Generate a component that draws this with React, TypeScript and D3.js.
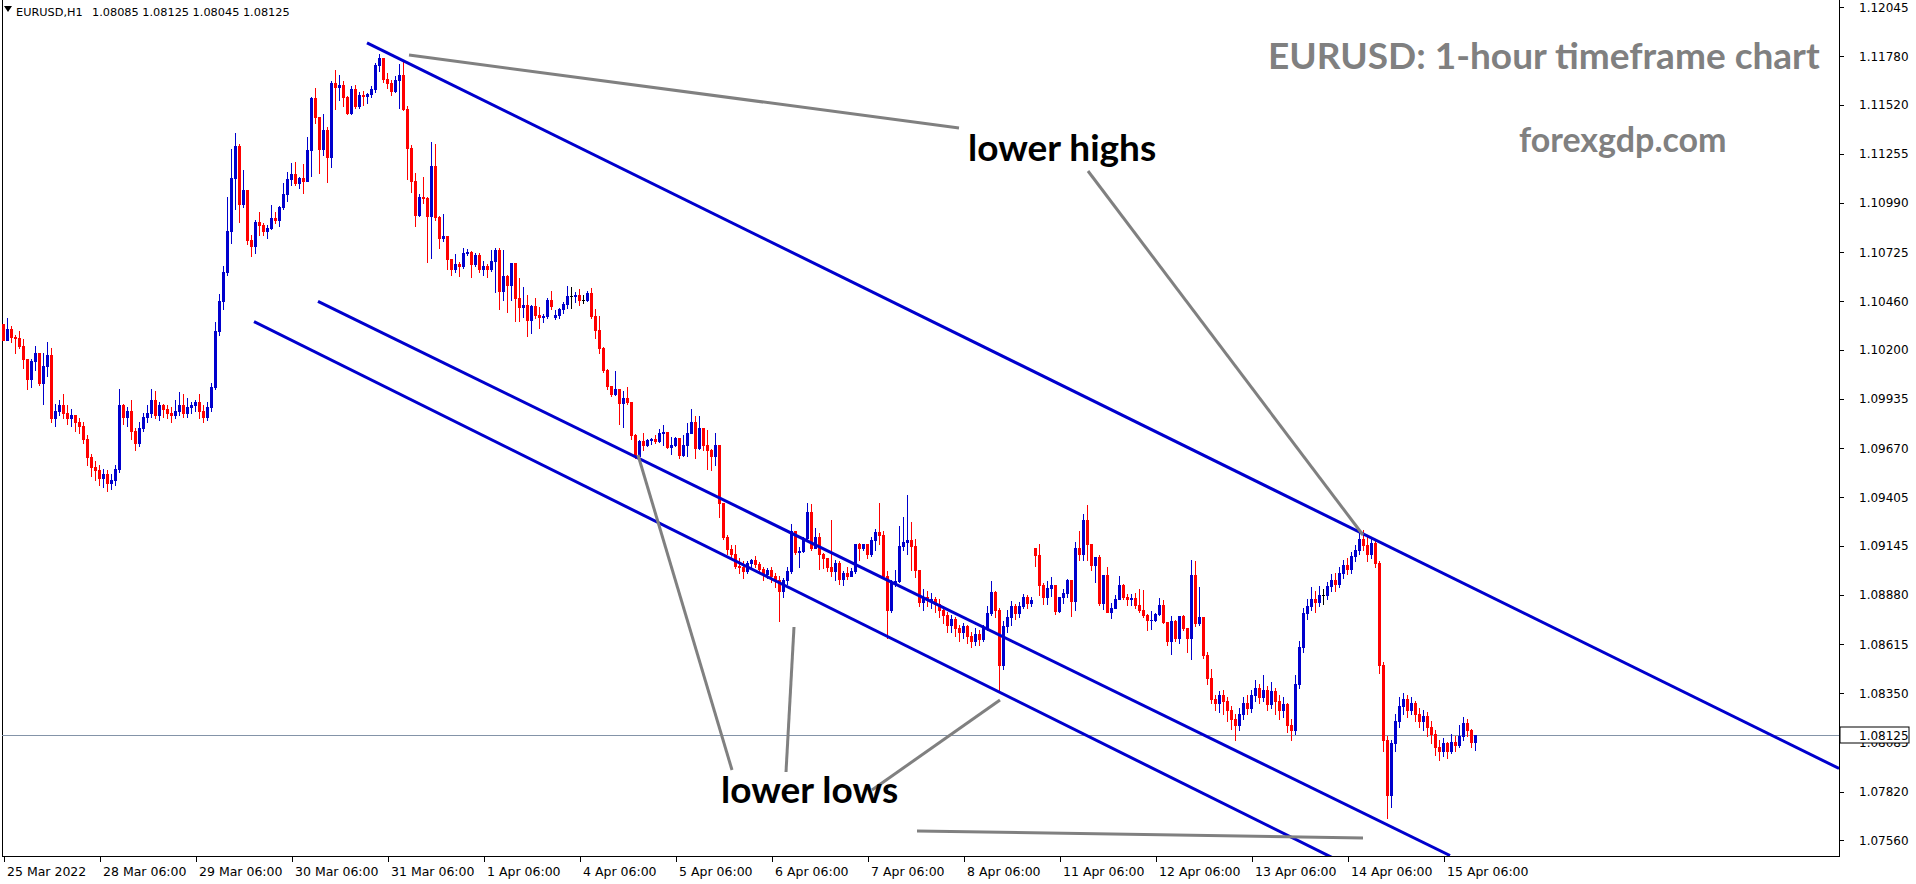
import React, { useEffect } from 'react';
import * as d3 from 'd3';

const W = 1916;
const H = 884;
const PLOT_RIGHT = 1839;
const PLOT_BOTTOM = 856;

// Candles: [close, high, low, open?] in pips above 1.0700 (1 pip = 0.0001)
const firstOpen = 334;
const mar25 = [
  [325, 334, 325], [331, 337, 325], [327, 333, 324], [326.5, 328, 318], [322, 330, 321], [315, 326, 310],
  [304, 315, 299], [314, 315, 300], [318, 322, 309], [302, 318, 301], [311, 318, 291], [317, 324, 306],
  [283, 321, 281], [287, 291, 279], [290, 293, 285], [286, 296, 283], [283, 290, 280], [285, 288, 279],
];
const mar28 = [
  [281, 285, 276], [279, 283, 275], [272, 281, 270], [262, 274, 258], [257, 264, 252], [255, 260, 250],
  [251, 258, 247], [253, 256, 246], [248, 255, 244], [250, 253, 245], [256, 258, 247], [290, 299, 254],
  [284, 291, 280], [287, 289, 279], [276, 293, 272], [270, 278, 266], [278, 281, 268], [284, 286, 276],
  [286, 290, 281], [293, 299, 284], [285, 298, 283], [290, 292, 282], [288, 291, 284], [286, 290, 283],
];
const mar29 = [
  [285, 289, 281], [287, 293, 283], [290, 297, 285], [286, 296, 284], [289, 294, 284], [290, 292, 286],
  [292, 293, 287], [287, 296, 283], [284, 290, 281], [289, 292, 282], [300, 302, 287], [330, 335, 299],
  [346, 350, 328], [362, 365, 342], [384, 402, 360], [412.6, 428, 377.6], [429.6, 436.8, 395.7], [398.6, 431, 389],
  [406, 416.7, 397], [379, 406, 377], [376, 382, 370.4], [388.7, 390, 372], [387, 394, 382], [384, 388, 381.7],
];
const mar30 = [
  [385.5, 387, 380], [390.9, 397.9, 385], [390, 394, 388], [396.8, 397.5, 386.5], [403.8, 409.5, 396], [411.9, 415.5, 400],
  [414.6, 420.3, 408.6], [409.9, 421, 408.5], [412.4, 413, 406.8], [411, 420, 404.5], [427.5, 434.3, 411], [455.7, 456.2, 413.7],
  [445.4, 460.7, 442.2], [428, 445.5, 415], [438.3, 446.9, 424.8], [423.9, 439.9, 410.4], [463.7, 464.6, 418.5], [461.6, 470.6, 449.7],
  [462.5, 467.7, 454.4], [456.2, 464.8, 451.2], [447.6, 456.5, 447], [460.3, 461.9, 446.9], [451.2, 462.5, 450], [457, 459, 450],
];
const mar31 = [
  [456.8, 459.5, 452], [457.7, 458, 453], [460.4, 461.7, 456], [473.3, 474.2, 459], [477, 479, 470], [465.8, 477, 464],
  [463.4, 468.8, 461], [459.5, 465, 457.3], [465.2, 467.4, 459], [467.9, 474, 450], [449.4, 476, 449], [428.8, 451, 411.9],
  [411, 430, 405], [392.5, 415, 386.8], [402.4, 404, 392], [401.5, 413, 399], [392, 402, 367.4], [418.9, 431.8, 369.6],
  [391.6, 431, 390], [380.3, 392, 375], [381, 392.9, 378.7], [368.8, 381, 363.3], [363.3, 369, 360.2], [366.1, 371.5, 362],
];
const apr01 = [
  [365, 367, 359.7], [372.2, 374.6, 364], [372.8, 374, 371], [366.1, 373, 359], [370.8, 372, 365], [363.3, 372, 362],
  [365, 368, 360], [363.2, 366, 359], [367.7, 373.6, 362.5], [373.6, 374.5, 351.2], [351.5, 374.5, 341.9], [359.8, 373.6, 347],
  [354.8, 360, 340.4], [366.5, 366.5, 346.7], [347.6, 366.5, 335.6], [343.1, 358.4, 335.6], [344, 353.9, 337.7], [335.9, 349.5, 327.3],
  [343.5, 344, 328.8], [338.6, 347.6, 337], [337.6, 343, 331.4], [338.1, 339, 335], [347, 348, 337], [343.5, 351.6, 342],
];
const apr04 = [
  [338.6, 341.3, 336.3, 337.7], [341.9, 342.7, 337], [344.5, 345.8, 340], [348.9, 354.2, 342.2], [348.9, 353.9, 342.2], [349.5, 351.2, 345.8],
  [346.7, 352.4, 344], [346.7, 349.4, 345.3], [350.6, 351.5, 346], [338.1, 353, 337], [330.5, 341.7, 326.1], [321, 338.1, 318.4],
  [309, 321.4, 308.1], [300.4, 309.4, 299], [296.1, 300.4, 295], [298.8, 308.5, 295.5], [291.4, 298.8, 280], [293.8, 297.7, 278.5],
  [292, 300, 291], [274, 292, 272], [262.7, 274.5, 261.5], [271, 271.5, 260.5], [268.6, 275, 266], [271.3, 272, 268],
];
const apr05 = [
  [271.7, 272.5, 269], [271, 274, 269.5], [275, 277.1, 270.5], [275.8, 279.4, 268.5], [267.8, 275.8, 266.9], [268.6, 273.2, 263.8],
  [272.3, 273, 268], [263.3, 272.3, 261.5], [268.6, 274, 263], [275, 280.3, 262.7], [281.2, 287.9, 275], [267, 284.3, 261.5],
  [277.6, 284.3, 266.3], [268.7, 277.6, 266], [266, 276.7, 255.6], [263, 266.5, 255], [268.7, 275, 257.9], [237.6, 268.7, 230],
  [219.3, 237.6, 218], [212.7, 220, 210], [210, 215, 207.9], [203.7, 214.8, 202.5], [203, 207.6, 200], [201, 206, 197],
];
const apr06 = [
  [205, 206, 200], [206.7, 207.5, 203], [204.4, 208.7, 203], [202, 205.5, 199.5], [199, 203, 196], [201.5, 202.5, 197],
  [198, 203, 195], [196, 199.5, 192], [190, 198, 174], [196, 197, 187], [201, 203, 194], [222.4, 226, 200],
  [211.2, 222.4, 210], [211.5, 214, 203], [218.4, 219, 211], [232.8, 237.6, 218], [213, 236.9, 212], [219.3, 224, 213],
  [210, 221.5, 202], [207.6, 210.5, 202.3], [203, 207.6, 201], [201, 228.3, 198], [205, 207, 196], [196.5, 206, 194],
];
const apr07 = [
  [199.8, 200.7, 193.5], [198.3, 203, 196.5], [200.7, 202.5, 198], [215.4, 215.4, 199.8], [213.2, 215.9, 207], [215.4, 215.4, 212],
  [210, 215.4, 207.8], [217.7, 219, 209], [221.8, 223.4, 212.3], [220.4, 237.5, 215.5], [198, 222.2, 197], [180, 201, 165],
  [194.7, 196, 179], [195.3, 201.5, 193], [214.1, 225, 195], [216.3, 229.9, 212.3], [217.7, 241.9, 210], [214.5, 227.2, 201.2],
  [201.5, 218, 197.6], [184, 201.5, 182], [187, 191, 180], [185, 190.3, 182], [186, 189, 181], [183, 187, 179],
];
const apr08 = [
  [180, 186, 176], [177, 182, 173], [172, 179, 168], [175, 177, 168], [170, 176, 166], [168, 172, 163],
  [171, 173, 165], [166, 172, 162], [163, 168, 160], [167, 170, 161], [164, 169, 161], [170, 172, 163],
  [178, 182, 169], [189.5, 195.6, 177], [180, 190, 176], [150, 181, 136], [171, 174, 148], [176, 180, 168],
  [182, 184.8, 172], [178, 183, 175], [182, 184, 176], [186.8, 188.5, 181], [183.6, 188, 181], [185, 187, 182],
];
const apr11 = [
  [209.6, 213.2, 203.7, 213.2], [193.5, 215.5, 187.7], [186.8, 194.5, 183.2], [191.7, 195.2, 183.2], [193.1, 197.6, 187.2], [179.4, 193.1, 177.8],
  [186.8, 186.8, 178.7], [189, 191.1, 183.6], [196.1, 196.5, 186.8], [184.8, 196.1, 176.7], [213.2, 216.4, 180], [210.1, 222.5, 206.5],
  [228.4, 231.7, 206.5], [215.5, 236.5, 206.5], [204.2, 215.5, 201.2], [208.3, 208.3, 194.9], [183.6, 209.6, 182.7], [198.8, 198.8, 180.5],
  [178.7, 202.9, 178.7], [180.9, 183.6, 175.5], [185.7, 188, 180.9], [193.1, 197.9, 185.7], [186.8, 193.8, 186], [185.9, 188.6, 182.7],
];
const apr12 = [
  [186.3, 188.6, 182.7], [182.7, 189, 181], [180, 191.3, 178.7], [177.3, 190.4, 176], [174.2, 177.6, 169.2], [174.6, 179.1, 169.6],
  [177.6, 178, 174], [182.7, 186.3, 177], [173.2, 185.4, 172.8], [162.9, 173.2, 161], [174, 176.7, 156.1], [164.7, 174.6, 163],
  [176.7, 176.7, 162], [170.1, 177.3, 169], [164.7, 170.1, 157.2], [198.8, 206.9, 153.6], [172.8, 206.4, 171], [176, 192, 172],
  [155.7, 176, 154], [143, 157, 140], [131.9, 148.2, 130], [130, 134, 126], [134, 136, 125], [131, 137, 124],
];
const apr13 = [
  [126, 133, 120], [121, 128, 116], [118, 124, 110], [124, 127, 115], [130, 133, 121], [127, 134, 124],
  [134, 137, 125], [138, 142, 131], [133, 140, 130], [137, 145, 131], [129, 139, 126], [136, 141, 127],
  [131, 138, 124], [126, 134, 121], [129, 133, 122], [118, 130, 114], [115, 121, 110], [140, 145, 113],
  [160, 163, 138], [178, 181, 157], [182, 186, 175], [186, 192, 180], [184, 190, 179], [188, 193, 182],
];
const apr14 = [
  [188, 191, 183], [193, 195, 186], [196, 199, 190], [194, 200, 190], [200, 203, 192], [204, 207, 197],
  [202, 208, 199], [209, 211, 200], [212, 215, 206], [218, 222, 210], [215, 223, 212], [210, 219, 206],
  [216, 218, 208], [205, 218, 203], [150, 206, 146], [110, 152, 104], [80, 112, 68], [108, 110, 74],
  [120, 124, 104], [128, 133, 117], [132, 135, 124], [126, 134, 122], [130, 133, 124], [124, 131, 120],
];
const apr15 = [
  [120, 127, 117], [123, 126, 115], [117, 125, 112], [113, 120, 108], [106, 115, 102], [104, 110, 99],
  [108, 111, 101], [104, 109, 100], [109, 113, 103], [107, 112, 104], [112, 118, 106], [119, 122, 110],
  [115, 121, 112], [108.5, 116, 106], [112.5, 112.5, 104.5, 108.5],
];
const days = [mar25, mar28, mar29, mar30, mar31, apr01, apr04, apr05, apr06, apr07, apr08, apr11, apr12, apr13, apr14, apr15];

const priceTicks = [1.12045, 1.1178, 1.1152, 1.11255, 1.1099, 1.10725, 1.1046, 1.102, 1.09935, 1.0967, 1.09405, 1.09145, 1.0888, 1.08615, 1.0835, 1.08085, 1.0782, 1.0756];
const timeLabels = ['25 Mar 2022', '28 Mar 06:00', '29 Mar 06:00', '30 Mar 06:00', '31 Mar 06:00', '1 Apr 06:00', '4 Apr 06:00', '5 Apr 06:00', '6 Apr 06:00', '7 Apr 06:00', '8 Apr 06:00', '11 Apr 06:00', '12 Apr 06:00', '13 Apr 06:00', '14 Apr 06:00', '15 Apr 06:00'];
const timeLabelBars = [0, 24, 48, 72, 96, 120, 144, 168, 192, 216, 240, 264, 288, 312, 336, 360];
const lastPrice = 1.08125;
const header = ['EURUSD,H1', '1.08085 1.08125 1.08045 1.08125'];

// Channel lines: anchor point (ax, ay) in pixels and slope
const channelLines = [
  { x1: 367, x2: 1839, slope: 0.4929, ax: 401.7, ay: 60 },
  { x1: 318, x2: 1450, slope: 0.4895, ax: 480, ay: 380.7 },
  { x1: 254, x2: 1332, slope: 0.497, ax: 480, ay: 434 },
];

const BASE = 1.07;
const PIP = 0.0001;

const blue = '#0000CD';
const red = '#FF0000';

export default function App() {
  useEffect(() => {
    document.body.style.margin = '0';
  }, []);

  const candles: { o: number; h: number; l: number; c: number }[] = [];
  let prev = firstOpen;
  days.forEach((day) => {
    day.forEach((d: number[]) => {
      const o = d.length > 3 ? d[3] : prev;
      const c = d[0];
      const h = Math.max(d[1], o, c);
      const l = Math.min(d[2], o, c);
      candles.push({ o: BASE + o * PIP, h: BASE + h * PIP, l: BASE + l * PIP, c: BASE + c * PIP });
      prev = c;
    });
  });

  const y = d3.scaleLinear().domain([1.0756, 1.12045]).range([840, 7]);
  const x = d3.scaleLinear().domain([0, 1]).range([3.5, 7.5]);
  const fmt = d3.format('.5f');

  const font = 'DejaVu Sans, Verdana, sans-serif';
  const titleFont = 'Lato, Open Sans, sans-serif';

  return (
    <svg width={W} height={H} style={{ display: 'block', position: 'absolute', left: 0, top: 0, background: '#fff' }}>
      <rect x={0} y={0} width={W} height={H} fill="#fff" />
      <defs>
        <clipPath id="plot">
          <rect x={2} y={0} width={PLOT_RIGHT - 2} height={PLOT_BOTTOM} />
        </clipPath>
      </defs>
      {/* frame */}
      <line x1={2.5} y1={0} x2={2.5} y2={PLOT_BOTTOM} stroke="#000" strokeWidth={1} />
      <line x1={2} y1={PLOT_BOTTOM + 0.5} x2={PLOT_RIGHT + 0.5} y2={PLOT_BOTTOM + 0.5} stroke="#000" strokeWidth={1} />
      <line x1={PLOT_RIGHT + 0.5} y1={0} x2={PLOT_RIGHT + 0.5} y2={PLOT_BOTTOM + 1} stroke="#000" strokeWidth={1} />

      {/* price axis */}
      {priceTicks.map((p) => (
        <g key={p}>
          <line x1={PLOT_RIGHT + 1} x2={PLOT_RIGHT + 5} y1={Math.round(y(p)) + 0.5} y2={Math.round(y(p)) + 0.5} stroke="#000" />
          <text x={PLOT_RIGHT + 20} y={y(p) + 4.5} fontFamily={font} fontSize={12} fill="#000">{fmt(p)}</text>
        </g>
      ))}
      {/* time axis */}
      {timeLabels.map((t, i) => {
        const bx = Math.round(x(timeLabelBars[i]));
        return (
          <g key={t}>
            <line x1={bx + 0.5} x2={bx + 0.5} y1={PLOT_BOTTOM + 1} y2={PLOT_BOTTOM + 6} stroke="#000" />
            <text x={bx + 3} y={PLOT_BOTTOM + 20} fontFamily={font} fontSize={12.5} fill="#000">{t}</text>
          </g>
        );
      })}

      <g clipPath="url(#plot)">
        {/* bid line */}
        <line x1={2} x2={PLOT_RIGHT} y1={Math.round(y(lastPrice)) + 0.5} y2={Math.round(y(lastPrice)) + 0.5} stroke="#8494a8" strokeWidth={1} />

        {/* candles */}
        <g shapeRendering="crispEdges">
          {candles.map((k, i) => {
            const cx = Math.floor(x(i));
            const col = k.c > k.o ? blue : k.c < k.o ? red : '#000';
            const yt = Math.round(y(Math.max(k.o, k.c)));
            const yb = Math.round(y(Math.min(k.o, k.c)));
            return (
              <g key={i}>
                <rect x={cx} y={Math.round(y(k.h))} width={1} height={Math.max(1, Math.round(y(k.l)) - Math.round(y(k.h)) + 1)} fill={col} />
                <rect x={cx - 1} y={yt} width={3} height={Math.max(1, yb - yt + 1)} fill={col} />
              </g>
            );
          })}
        </g>

        {/* channel lines */}
        {channelLines.map((l, i) => (
          <line key={i} x1={l.x1} y1={l.ay + (l.x1 - l.ax) * l.slope} x2={l.x2} y2={l.ay + (l.x2 - l.ax) * l.slope} stroke={blue} strokeWidth={3} />
        ))}
      </g>

      {/* annotation pointers */}
      <g stroke="#808080" strokeWidth={3} fill="none">
        <line x1={409} y1={55} x2={959} y2={128} />
        <line x1={1088} y1={171} x2={1363} y2={535} />
        <line x1={638} y1={455} x2={732} y2={770} />
        <line x1={794} y1={627} x2={786} y2={772} />
        <line x1={1000} y1={700} x2={872} y2={790} />
        <line x1={917} y1={831} x2={1363} y2={838} />
      </g>

      {/* current price label */}
      <rect x={PLOT_RIGHT + 1} y={Math.round(y(lastPrice)) - 8} width={W - PLOT_RIGHT - 8} height={16} fill="#fff" stroke="#000" />
      <text x={PLOT_RIGHT + 20} y={y(lastPrice) + 4.5} fontFamily={font} fontSize={12} fill="#000">{fmt(lastPrice)}</text>

      {/* header */}
      <polygon points="4,6 12,6 8,12" fill="#000" />
      <text x={16} y={16} fontFamily={font} fontSize={11.3} fill="#000">{header[0]}</text>
      <text x={92} y={16} fontFamily={font} fontSize={11.3} fill="#000">{header[1]}</text>

      {/* titles */}
      <text x={1268} y={69} fontFamily={titleFont} fontWeight={700} fontSize={37} fill="#808080">EURUSD: 1-hour timeframe chart</text>
      <text x={1519} y={152} fontFamily={titleFont} fontWeight={700} fontSize={34} fill="#808080">forexgdp.com</text>
      <text x={968} y={161} fontFamily={titleFont} fontWeight={700} fontSize={37} fill="#000">lower highs</text>
      <text x={721} y={803} fontFamily={titleFont} fontWeight={700} fontSize={37} fill="#000">lower lows</text>
    </svg>
  );
}
